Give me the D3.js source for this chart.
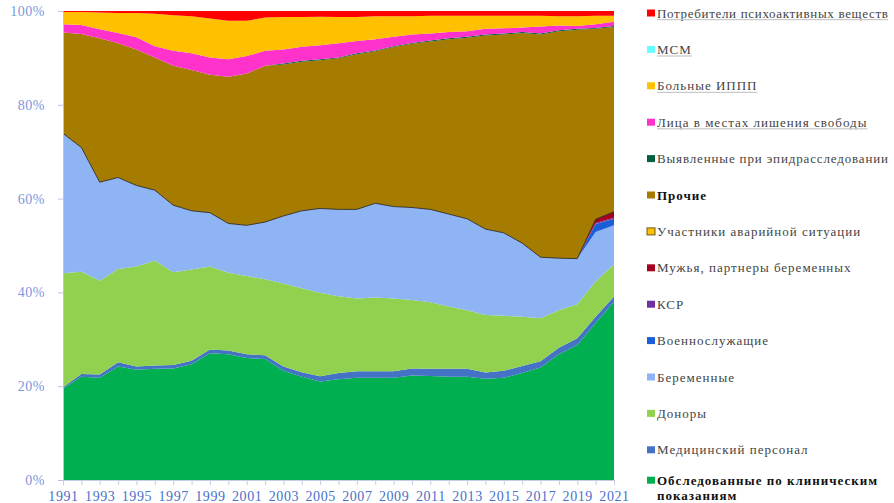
<!DOCTYPE html>
<html>
<head>
<meta charset="utf-8">
<script src="https://cdn.jsdelivr.net/npm/d3@7"></script>
<style>
  body { margin: 0; background: #fff; }
  svg { display: block; }
</style>
</head>
<body>
<svg id="chart"></svg>
<script>
// years on the x axis
let years = d3.range(1991, 2022)

// series values, % of the year's total
let obsledovannye = [19.5, 22.0, 21.8, 24.2, 23.5, 23.7, 23.8, 24.7, 27.0, 26.8, 26.0, 25.8, 23.3, 22.0, 21.0, 21.5, 21.8, 21.8, 21.8, 22.3, 22.2, 22.0, 22.0, 21.6, 21.8, 22.8, 24.0, 26.8, 28.8, 33.5, 38.0]
let medpersonal = [0.3, 0.6, 0.7, 0.9, 0.7, 0.7, 0.7, 0.7, 0.8, 0.8, 0.8, 0.8, 0.9, 1.0, 1.1, 1.3, 1.4, 1.4, 1.4, 1.5, 1.5, 1.7, 1.7, 1.3, 1.5, 1.5, 1.3, 1.4, 1.4, 1.3, 1.1]
let donory = [24.3, 21.8, 20.0, 19.9, 21.3, 22.4, 19.8, 19.5, 17.7, 16.6, 16.7, 16.2, 17.7, 17.9, 17.8, 16.4, 15.5, 15.7, 15.5, 14.6, 14.2, 13.3, 12.5, 12.3, 11.7, 10.5, 9.2, 8.0, 7.3, 7.5, 6.9]
let beremennye = [29.8, 26.5, 21.0, 19.5, 17.3, 15.0, 14.3, 12.5, 11.5, 10.5, 10.8, 12.2, 14.4, 16.5, 18.0, 18.5, 19.0, 20.1, 19.6, 19.7, 19.8, 19.7, 19.5, 18.3, 17.7, 15.7, 13.0, 11.1, 9.7, 10.6, 8.3]
let voennye = [0, 0, 0, 0, 0, 0, 0, 0, 0, 0, 0, 0, 0, 0, 0, 0, 0, 0, 0, 0, 0, 0, 0, 0, 0, 0, 0, 0, 0, 1.7, 1.4]
let ksr = [0, 0, 0, 0, 0, 0, 0, 0, 0, 0, 0, 0, 0, 0, 0, 0, 0, 0, 0, 0, 0, 0, 0, 0, 0, 0, 0, 0, 0, 0.2, 0.2]
let muzhya = [0, 0, 0, 0, 0, 0, 0, 0, 0, 0, 0, 0, 0, 0, 0, 0, 0, 0, 0, 0, 0, 0, 0, 0, 0, 0, 0, 0, 0, 0.8, 1.3]
let avariya = [0, 0, 0, 0, 0, 0, 0, 0, 0, 0, 0, 0, 0, 0, 0, 0, 0, 0, 0, 0, 0, 0, 0, 0, 0, 0, 0, 0, 0, 0, 0]
let prochie = [21.5, 24.2, 30.7, 28.6, 29.0, 28.3, 29.7, 30.0, 29.4, 31.3, 32.4, 33.3, 32.3, 31.8, 31.6, 32.2, 33.1, 32.4, 34.0, 34.9, 35.8, 37.3, 38.6, 41.3, 42.3, 44.8, 47.5, 48.4, 48.8, 40.6, 39.4]
let epid = [0, 0, 0, 0, 0, 0, 0, 0, 0, 0, 0, 0, 0.2, 0.2, 0.2, 0.2, 0.2, 0.2, 0.2, 0.2, 0.2, 0.2, 0.2, 0.2, 0.2, 0.2, 0.2, 0.2, 0.2, 0.2, 0.2]
let zaklyuchennye = [1.8, 1.9, 1.9, 2.2, 2.6, 2.4, 3.2, 3.6, 3.7, 3.7, 3.7, 3.2, 3.0, 3.0, 3.0, 3.0, 2.6, 2.4, 2.0, 1.8, 1.5, 1.3, 1.2, 1.2, 1.1, 1.0, 1.5, 1.0, 0.6, 0.8, 0.9]
let ippp = [2.6, 2.8, 3.6, 4.3, 5.2, 6.9, 7.6, 7.9, 8.3, 8.2, 7.5, 7.1, 6.9, 6.3, 6.1, 5.6, 5.1, 4.9, 4.4, 3.9, 3.8, 3.5, 3.3, 2.8, 2.7, 2.5, 2.3, 2.0, 2.1, 1.8, 1.3]
let msm = [0, 0, 0, 0, 0, 0, 0, 0, 0, 0, 0, 0, 0, 0, 0, 0, 0, 0, 0, 0, 0, 0, 0, 0, 0, 0, 0, 0, 0, 0, 0]
let pav = [0.2, 0.2, 0.3, 0.4, 0.4, 0.6, 0.9, 1.1, 1.6, 2.1, 2.1, 1.4, 1.3, 1.3, 1.2, 1.3, 1.3, 1.1, 1.1, 1.1, 1.0, 1.0, 1.0, 1.0, 1.0, 1.0, 1.0, 1.1, 1.1, 1.0, 1.0]

// stacking order, bottom first
let seriesNames = [
    'Обследованные по клиническим показаниям',
    'Медицинский персонал',
    'Доноры',
    'Беременные',
    'Военнослужащие',
    'КСР',
    'Мужья, партнеры беременных',
    'Участники аварийной ситуации',
    'Прочие',
    'Выявленные при эпидрасследовании',
    'Лица в местах лишения свободы',
    'Больные ИППП',
    'МСМ',
    'Потребители психоактивных веществ'
]
let seriesValues = [obsledovannye, medpersonal, donory, beremennye, voennye, ksr, muzhya, avariya, prochie, epid, zaklyuchennye, ippp, msm, pav]
let seriesColors = ['#00b050', '#4472c4', '#92d050', '#8fb4f4', '#1a5fd8', '#7030a0', '#a50021', '#ffc000', '#a67c00', '#00603f', '#ff33cc', '#ffc000', '#66ffff', '#ff0000']
let boldNames = ['Прочие', 'Обследованные по клиническим показаниям']
let underlined = ['Потребители психоактивных веществ', 'МСМ', 'Больные ИППП', 'Лица в местах лишения свободы']

let yTicks = [0, 0.2, 0.4, 0.6, 0.8, 1]
let xLabelYears = years.filter(y => (y - 1991) % 2 == 0)

let width = 894
let height = 503
let plotLeft = 63
let plotRight = 614
let plotTop = 11
let plotBottom = 480

let svg = d3.select('#chart')
    .attr('width', width)
    .attr('height', height)

// table for d3.stack
let rows = years.map((year, i) => {
    let row = { year: year }
    seriesNames.forEach((name, k) => { row[name] = seriesValues[k][i] })
    return row
})

let stack = d3.stack()
    .keys(seriesNames)
    .offset(d3.stackOffsetExpand)
let layers = stack(rows)

let xScale = d3.scaleLinear().domain([1991, 2021]).range([plotLeft, plotRight])
let yScale = d3.scaleLinear().domain([0, 1]).range([plotBottom, plotTop])

let area = d3.area()
    .x(d => xScale(d.data.year))
    .y0(d => yScale(d[0]))
    .y1(d => yScale(d[1]))

svg.append('g')
    .selectAll('path')
    .data(layers)
    .enter()
    .append('path')
    .attr('d', area)
    .attr('fill', (d, i) => seriesColors[i])

// thin dark outline under "Прочие"
let prochieLayer = layers[seriesNames.indexOf('Прочие')]
svg.append('path')
    .datum(prochieLayer)
    .attr('d', d3.line().x(d => xScale(d.data.year)).y(d => yScale(d[0])))
    .attr('fill', 'none')
    .attr('stroke', '#2b2b2b')
    .attr('stroke-width', 0.9)

// axes
let yAxis = d3.axisLeft(yScale)
    .tickValues(yTicks)
    .tickFormat(d3.format('.0%'))
    .tickSize(5)
    .tickPadding(13)
let gy = svg.append('g')
    .attr('transform', `translate(${plotLeft}, 0)`)
    .call(yAxis)
gy.select('.domain').attr('stroke', '#b8c4de')
gy.selectAll('.tick line').attr('stroke', '#b8c4de')
gy.selectAll('text')
    .attr('fill', '#7b98da')
    .style('font-family', 'Liberation Serif, serif')
    .style('font-size', '14px')
    .style('letter-spacing', '0.5px')

let xAxis = d3.axisBottom(xScale)
    .tickValues(years)
    .tickFormat(d => xLabelYears.includes(d) ? d : '')
    .tickSize(5)
    .tickPadding(6)
let gx = svg.append('g')
    .attr('transform', `translate(0, ${plotBottom})`)
    .call(xAxis)
gx.select('.domain').attr('stroke', '#c4cde3')
gx.selectAll('.tick line').attr('stroke', '#c4cde3')
gx.selectAll('text')
    .attr('fill', '#4a70c8')
    .style('font-family', 'Liberation Serif, serif')
    .style('font-size', '14px')
    .style('letter-spacing', '0.6px')

// legend, top item is the top layer
let legend = svg.append('g')
let legendNames = seriesNames.slice().reverse()
let legendColors = seriesColors.slice().reverse()
let rowGap = 36.4
let maxTextWidth = 231

legendNames.forEach((name, i) => {
    let cy = 13 + i * rowGap
    let lines = name == 'Обследованные по клиническим показаниям'
        ? ['Обследованные по клиническим', 'показаниям'] : [name]
    if (lines.length > 1) cy -= 6 // wrapped label sits a bit higher so both lines fit
    let g = legend.append('g')
    g.append('rect')
        .attr('x', 647)
        .attr('y', cy - 3.5)
        .attr('width', 8)
        .attr('height', 7)
        .attr('fill', legendColors[i])
        .attr('stroke', name == 'Участники аварийной ситуации' ? '#6b5a20' : 'none')
        .attr('stroke-width', 1)
    let bold = boldNames.includes(name)
    lines.forEach((line, j) => {
        let t = g.append('text')
            .attr('x', 657)
            .attr('y', cy + 4.5 + j * 15)
            .attr('fill', bold ? '#111' : '#444')
            .style('font-family', 'Liberation Serif, serif')
            .style('font-size', '13px')
            .style('font-weight', bold ? 'bold' : 'normal')
            .style('letter-spacing', '1px')
            .text(line)
        let w = t.node().getComputedTextLength()
        if (w > maxTextWidth) {
            // squeeze the spacing so the long label stays inside the page
            t.style('letter-spacing', null)
                .attr('textLength', maxTextWidth)
                .attr('lengthAdjust', 'spacing')
            w = maxTextWidth
        }
        if (underlined.includes(name)) {
            g.append('rect')
                .attr('x', 657)
                .attr('y', cy + 6)
                .attr('width', w)
                .attr('height', 1.2)
                .attr('fill', '#c8c8c8')
        }
    })
})
</script>
</body>
</html>
